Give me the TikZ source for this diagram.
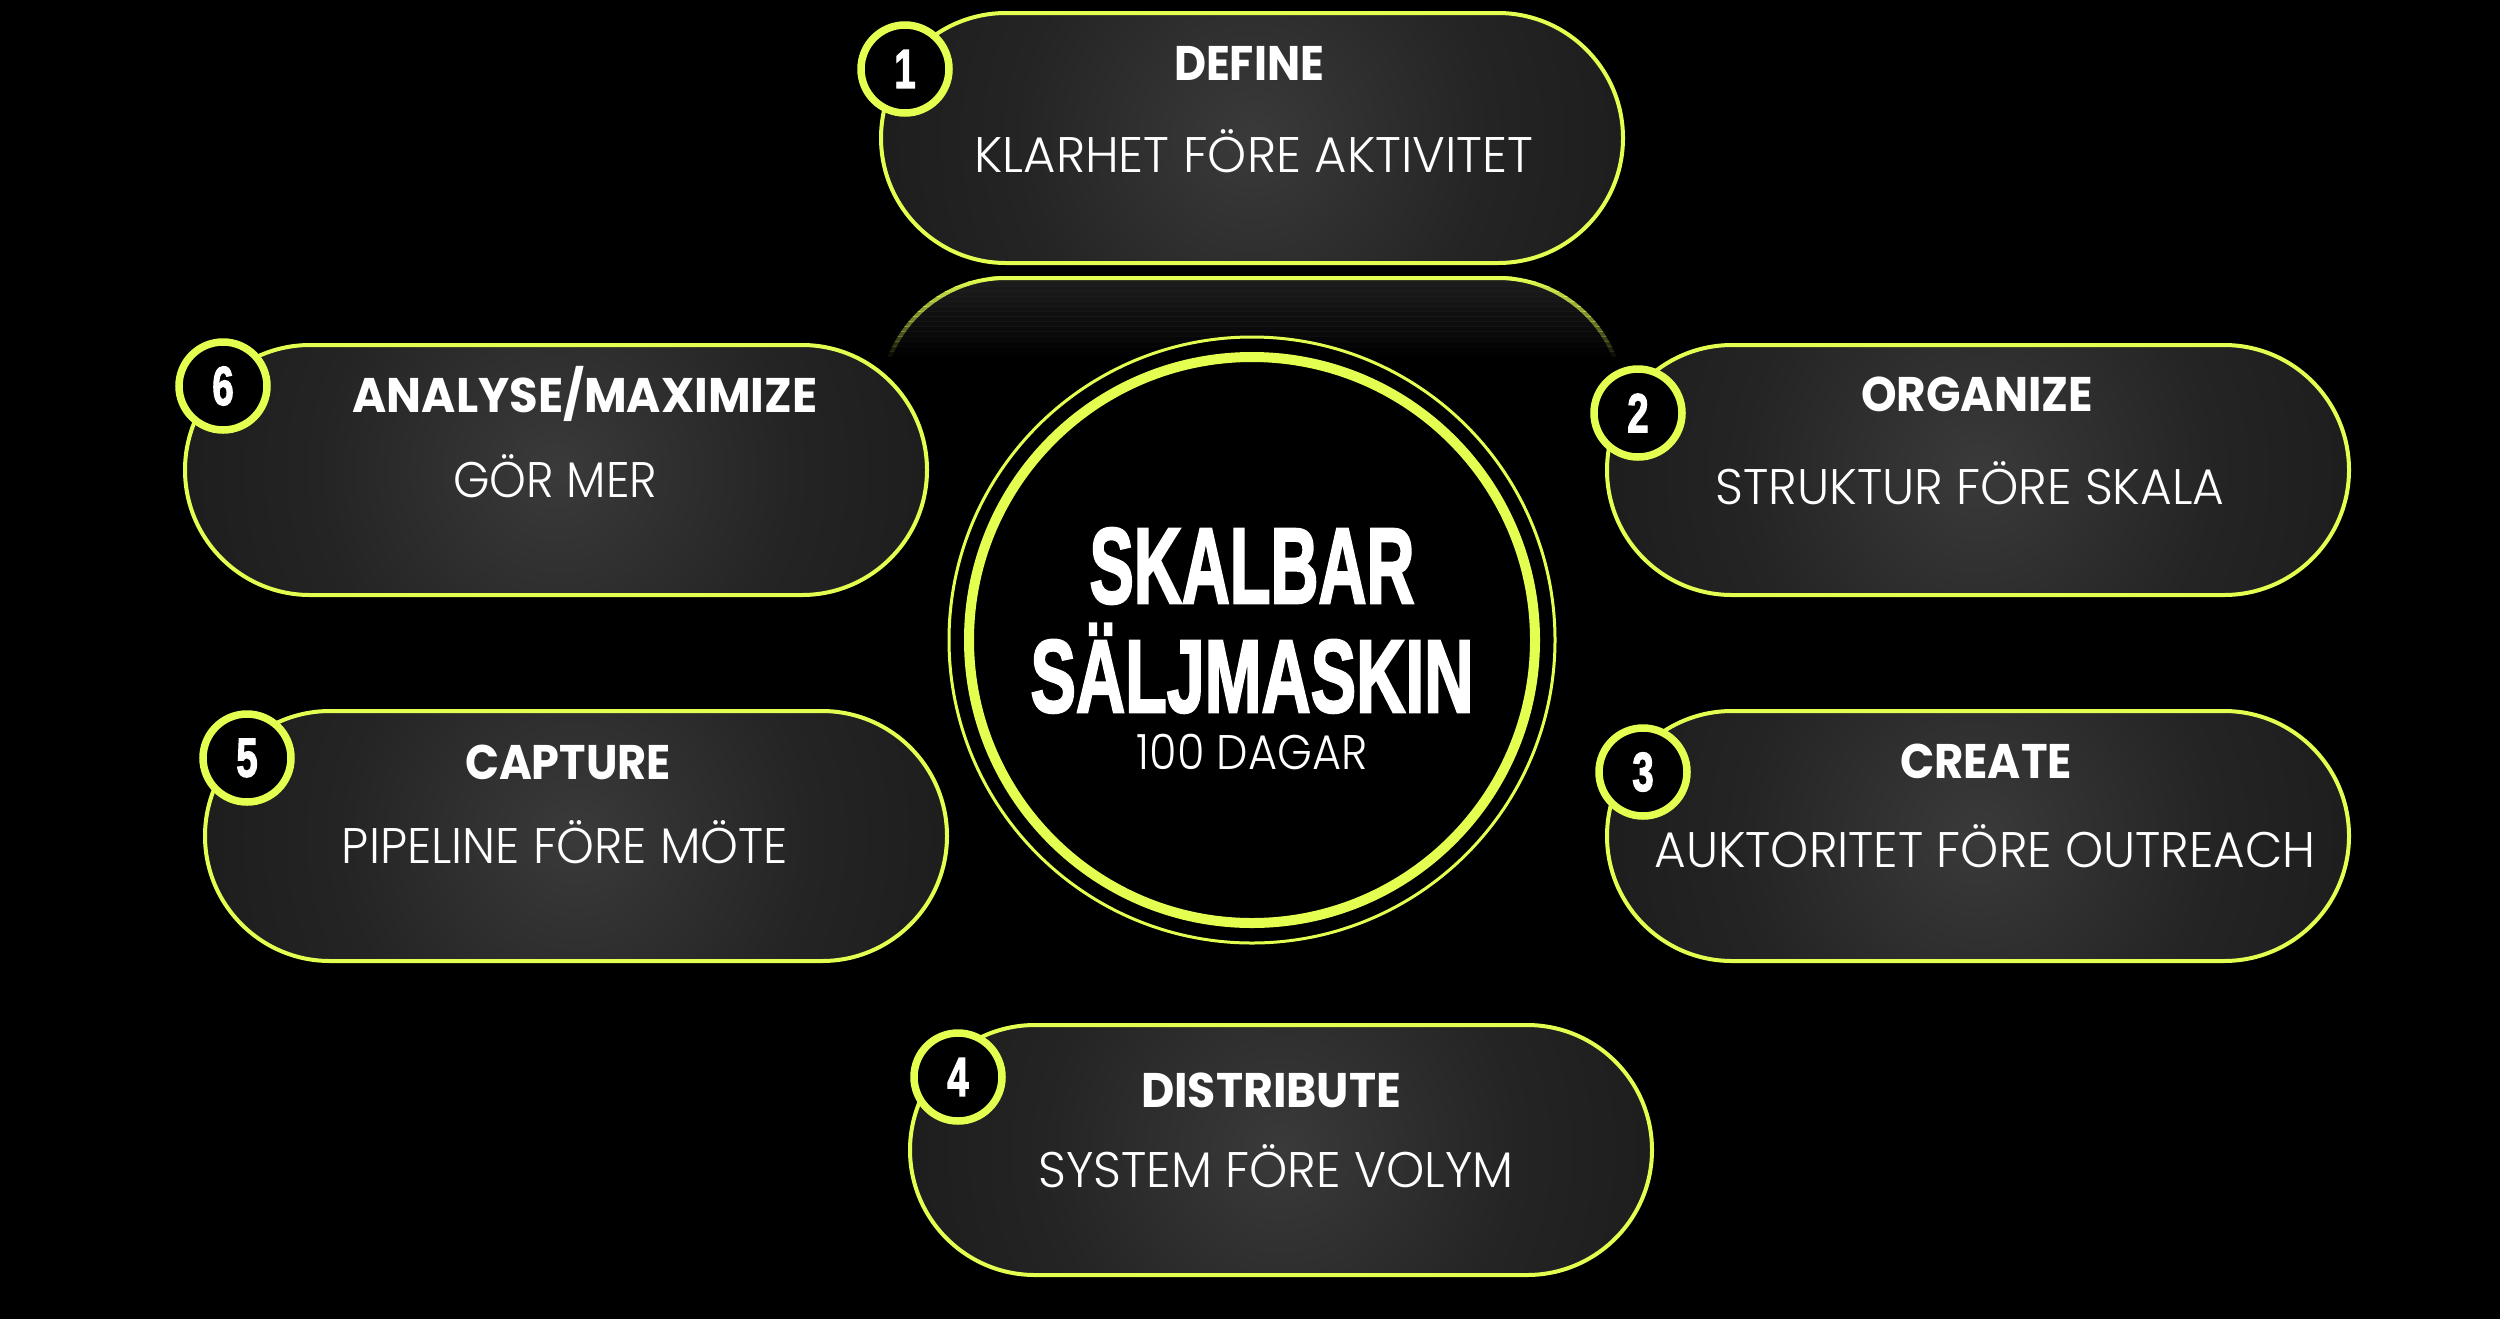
\documentclass[tikz,border=0pt]{standalone}
\usepackage{fontspec}
\usepackage{graphicx}
\usetikzlibrary{shapes.misc}
\newfontfamily\titlef{Poppins}
\newfontfamily\subf{Poppins Light}
\newfontfamily\heavyf{Liberation Sans}[BoldFeatures={FakeBold=2.5}]
\definecolor{lime}{RGB}{228,255,80}
\definecolor{pillin}{RGB}{58,58,58}
\definecolor{pillmid}{RGB}{36,36,36}
\definecolor{pillout}{RGB}{12,12,12}
\definecolor{ghostfill}{RGB}{30,30,30}
\pgfdeclareradialshading{pillglow}{\pgfpoint{0bp}{0bp}}{color(0bp)=(pillin); color(16bp)=(pillmid); color(50bp)=(pillout)}
\newcommand\pillbg[2]{%
  \begin{scope}
    \clip[rounded corners=125pt] (#1-371,#2-125) rectangle (#1+371,#2+125);
    \shade[shading=pillglow] (#1,#2) circle[radius=372];
  \end{scope}}
\newcommand\ttl[2]{{\titlef\bfseries\fontsize{48.6}{50}\selectfont\resizebox{#1pt}{\height}{#2}}}
\newcommand\sbt[2]{{\subf\fontsize{50}{52}\selectfont\resizebox{#1pt}{\height}{#2}}}
\newcommand\numb[1]{{\heavyf\bfseries\fontsize{55}{56}\selectfont\scalebox{0.7}[1]{#1}}}
\begin{document}
\begin{tikzpicture}[x=1pt,y=-1pt,
  pill/.style={rounded rectangle, draw=lime, line width=4pt, minimum width=742pt, minimum height=250pt, inner sep=0pt},
  badge/.style={circle, draw=lime, line width=7.5pt, fill=black, minimum size=88pt, inner sep=0pt, text=white},
  txt/.style={anchor=base, inner sep=0pt, text=white}]
\useasboundingbox (0,0) rectangle (2500,1318);
\fill[black] (-10,-10) rectangle (2510,1328);

% reflection of the top pill
\foreach \i in {0,...,17}{
  \pgfmathsetmacro\op{min(1,max(0,1-(\i-1)/16))}
  \begin{scope}
    \clip (870,271+5*\i) rectangle (1640,276+5*\i);
    \node[pill, draw opacity=\op, fill=ghostfill, fill opacity=\op] (g\i) at (1252,403) {};
  \end{scope}
}

% pills
\pillbg{1252}{138}
\node[pill] (p1) at (1252,138) {};
\pillbg{1978}{470}
\node[pill] (p2) at (1978,470) {};
\pillbg{1978}{836}
\node[pill] (p3) at (1978,836) {};
\pillbg{1281}{1150}
\node[pill] (p4) at (1281,1150) {};
\pillbg{576}{836}
\node[pill] (p5) at (576,836) {};
\pillbg{556}{470}
\node[pill] (p6) at (556,470) {};

% badges
\node[badge] (b1) at (905,69) {\numb{1}};
\node[badge] (b2) at (1638,413) {\numb{2}};
\node[badge] (b3) at (1643,772) {\numb{3}};
\node[badge] (b4) at (958,1077) {\numb{4}};
\node[badge] (b5) at (247,758) {\numb{5}};
\node[badge] (b6) at (223,386) {\numb{6}};

% titles and subtitles
\node[txt] (t1) at (1249,80) {\ttl{150}{DEFINE}};
\node[txt] (s1) at (1254,172) {\sbt{559}{KLARHET FÖRE AKTIVITET}};
\node[txt] (t2) at (1977,411) {\ttl{232}{ORGANIZE}};
\node[txt] (s2) at (1970,504) {\sbt{509}{STRUKTUR FÖRE SKALA}};
\node[txt] (t3) at (1986,778) {\ttl{172}{CREATE}};
\node[txt] (s3) at (1985,867) {\sbt{661}{AUKTORITET FÖRE OUTREACH}};
\node[txt] (t4) at (1271,1107) {\ttl{260}{DISTRIBUTE}};
\node[txt] (s4) at (1276,1187) {\sbt{475}{SYSTEM FÖRE VOLYM}};
\node[txt] (t5) at (568,779) {\ttl{206}{CAPTURE}};
\node[txt] (s5) at (565,863) {\sbt{446}{PIPELINE FÖRE MÖTE}};
\node[txt] (t6) at (585,412) {\ttl{465}{ANALYSE/MAXIMIZE}};
\node[txt] (s6) at (555,497) {\sbt{204}{GÖR MER}};

% centre
\node[circle, draw=lime, line width=3pt, fill=black, minimum size=606pt, inner sep=0pt] (ring) at (1252,640) {};
\node[circle, draw=lime, line width=10pt, minimum size=566pt, inner sep=0pt] (core) at (1252,640) {};
\node[txt] (c1) at (1252,603) {\heavyf\bfseries\fontsize{107.5}{110}\selectfont\resizebox{325pt}{\height}{SKALBAR}};
\node[txt] (c2) at (1252,712) {\heavyf\bfseries\fontsize{103.4}{106}\selectfont\resizebox{443pt}{\height}{SÄLJMASKIN}};
\node[txt] (c3) at (1252,769) {\subf\fontsize{48.6}{50}\selectfont\resizebox{231pt}{\height}{100 DAGAR}};
\end{tikzpicture}
\end{document}
